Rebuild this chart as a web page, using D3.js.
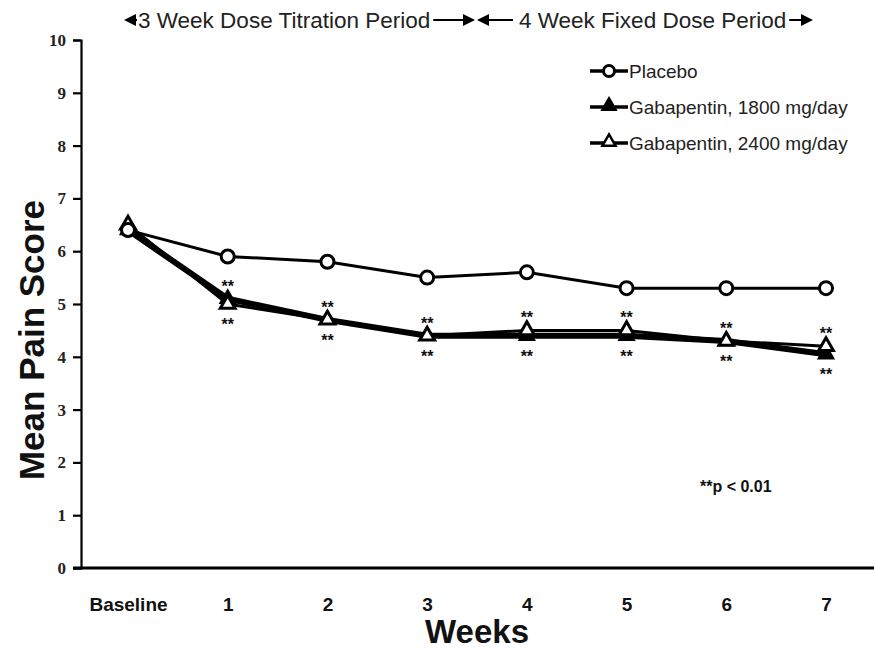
<!DOCTYPE html>
<html>
<head>
<meta charset="utf-8">
<script src="https://cdn.jsdelivr.net/npm/d3@7"></script>
<style>
  body { margin: 0; background: #fff; }
  svg text { fill: #111; }
</style>
</head>
<body>
<div id="chart"></div>
<script>
// values
const weeks = ['Baseline', '1', '2', '3', '4', '5', '6', '7'];
const placebo = [6.4, 5.9, 5.8, 5.5, 5.6, 5.3, 5.3, 5.3];
const gaba1800 = [6.4, 5.1, 4.7, 4.4, 4.4, 4.4, 4.3, 4.05];
const gaba2400 = [6.5, 5.0, 4.7, 4.4, 4.5, 4.5, 4.3, 4.2];
const significant = [false, true, true, true, true, true, true, true];
const yTicks = [0, 1, 2, 3, 4, 5, 6, 7, 8, 9, 10];
const legendLabels = ['Placebo', 'Gabapentin, 1800 mg/day', 'Gabapentin, 2400 mg/day'];

const width = 874, height = 652;
const sans = 'Liberation Sans, Arial, sans-serif';

const svg = d3.select('#chart').append('svg')
    .attr('width', width)
    .attr('height', height);

const x = d3.scalePoint().domain(weeks).range([128, 826]);
const y = d3.scaleLinear().domain([0, 10]).range([568, 40]);

// y axis
const yAxis = svg.append('g')
    .attr('transform', 'translate(81,0)')
    .call(d3.axisLeft(y).tickValues(yTicks).tickSize(8).tickPadding(7));
yAxis.select('.domain').attr('stroke', '#000').attr('stroke-width', 2.2);
yAxis.selectAll('.tick line').attr('stroke', '#000').attr('stroke-width', 2.2);
yAxis.selectAll('.tick text')
    .attr('font-family', 'Liberation Serif, Times New Roman, serif')
    .attr('font-weight', 'bold')
    .attr('font-size', 17)
    .style('fill', '#222');

// x axis (no tick marks)
const xAxis = svg.append('g')
    .attr('transform', `translate(0,${y(0)})`)
    .call(d3.axisBottom(x).tickSize(0).tickPadding(30));
xAxis.select('.domain').remove();
xAxis.append('line')
    .attr('x1', 73).attr('x2', width)
    .attr('stroke', '#000').attr('stroke-width', 3.2);
xAxis.selectAll('.tick text')
    .attr('font-family', sans)
    .attr('font-weight', 'bold')
    .attr('font-size', 19)
    .style('fill', '#111');

// axis titles
svg.append('text')
    .attr('transform', `translate(44,340) rotate(-90)`)
    .attr('text-anchor', 'middle')
    .attr('font-family', sans)
    .attr('font-weight', 'bold')
    .attr('font-size', 35)
    .text('Mean Pain Score');

svg.append('text')
    .attr('x', 477)
    .attr('y', 643)
    .attr('text-anchor', 'middle')
    .attr('font-family', sans)
    .attr('font-weight', 'bold')
    .attr('font-size', 33)
    .text('Weeks');

// lines
const line = d3.line()
    .x((d, i) => x(weeks[i]))
    .y((d) => y(d));

svg.append('path')
    .datum(placebo)
    .attr('d', line)
    .attr('fill', 'none')
    .attr('stroke', '#000')
    .attr('stroke-width', 3);

svg.append('path')
    .datum(gaba1800)
    .attr('d', line)
    .attr('fill', 'none')
    .attr('stroke', '#000')
    .attr('stroke-width', 6);

svg.append('path')
    .datum(gaba2400)
    .attr('d', line)
    .attr('fill', 'none')
    .attr('stroke', '#000')
    .attr('stroke-width', 3);

// markers
const triangle = d3.symbol().type(d3.symbolTriangle).size(95);

svg.selectAll('.filled')
    .data(gaba1800)
    .enter()
    .append('path')
    .attr('class', 'filled')
    .attr('d', triangle)
    .attr('transform', (d, i) => `translate(${x(weeks[i])},${y(d)})`)
    .attr('fill', '#000')
    .attr('stroke', '#000')
    .attr('stroke-width', 2);

svg.selectAll('.open')
    .data(gaba2400)
    .enter()
    .append('path')
    .attr('class', 'open')
    .attr('d', triangle)
    .attr('transform', (d, i) => `translate(${x(weeks[i])},${y(d)})`)
    .attr('fill', '#fff')
    .attr('stroke', '#000')
    .attr('stroke-width', 3);

svg.selectAll('.circ')
    .data(placebo)
    .enter()
    .append('circle')
    .attr('class', 'circ')
    .attr('cx', (d, i) => x(weeks[i]))
    .attr('cy', (d) => y(d))
    .attr('r', 6.5)
    .attr('fill', '#fff')
    .attr('stroke', '#000')
    .attr('stroke-width', 3);

// significance stars above and below the gabapentin points
const sigIdx = significant.map((s, i) => (s ? i : -1)).filter((i) => i >= 0);
svg.selectAll('.starUp')
    .data(sigIdx)
    .enter()
    .append('text')
    .attr('x', (i) => x(weeks[i]))
    .attr('y', (i) => y(Math.max(gaba1800[i], gaba2400[i])) - 7)
    .attr('text-anchor', 'middle')
    .attr('font-family', sans)
    .attr('font-weight', 'bold')
    .attr('font-size', 16)
    .text('**');
svg.selectAll('.starDown')
    .data(sigIdx)
    .enter()
    .append('text')
    .attr('x', (i) => x(weeks[i]))
    .attr('y', (i) => y(Math.min(gaba1800[i], gaba2400[i])) + 26)
    .attr('text-anchor', 'middle')
    .attr('font-family', sans)
    .attr('font-weight', 'bold')
    .attr('font-size', 16)
    .text('**');

// legend
const legend = svg.append('g').attr('transform', 'translate(590,0)');
legendLabels.forEach((label, i) => {
    const row = legend.append('g').attr('transform', `translate(0,${71 + i * 36})`);
    row.append('line')
        .attr('x1', 0).attr('x2', 38)
        .attr('stroke', '#000').attr('stroke-width', 3.5);
    if (i === 0) {
        row.append('circle')
            .attr('cx', 19).attr('r', 5.5)
            .attr('fill', '#fff').attr('stroke', '#000').attr('stroke-width', 3);
    } else {
        row.append('path')
            .attr('d', d3.symbol().type(d3.symbolTriangle).size(75))
            .attr('transform', 'translate(19,-1)')
            .attr('fill', i === 1 ? '#000' : '#fff')
            .attr('stroke', '#000').attr('stroke-width', 2.5);
    }
    row.append('text')
        .attr('x', 39)
        .attr('y', 7)
        .attr('font-family', sans)
        .attr('font-size', 19)
        .style('fill', '#222')
        .text(label);
});

// p-value note
svg.append('text')
    .attr('x', 700)
    .attr('y', 492)
    .attr('font-family', sans)
    .attr('font-weight', 'bold')
    .attr('font-size', 16)
    .text('**p < 0.01');

// period annotations with arrows on top
function arrowHead(g, tipX, tipY, dir) {
    g.append('path')
        .attr('d', `M${tipX},${tipY} l${-dir * 12},-6 l0,12 z`)
        .attr('fill', '#000');
}
const header = svg.append('g');
const topY = 20;
const t1 = header.append('text')
    .attr('x', 138).attr('y', topY + 8)
    .attr('font-family', sans).attr('font-size', 22.5)
    .style('fill', '#222')
    .text('3 Week Dose Titration Period');
const t2 = header.append('text')
    .attr('x', 519).attr('y', topY + 8)
    .attr('font-family', sans).attr('font-size', 22.5)
    .style('fill', '#222')
    .text('4 Week Fixed Dose Period');
const e1 = 138 + t1.node().getComputedTextLength();
const e2 = 519 + t2.node().getComputedTextLength();
arrowHead(header, 124, topY, -1);
header.append('line').attr('x1', 130).attr('x2', 137).attr('y1', topY).attr('y2', topY)
    .attr('stroke', '#000').attr('stroke-width', 2);
header.append('line').attr('x1', e1 + 3).attr('x2', 466).attr('y1', topY).attr('y2', topY)
    .attr('stroke', '#000').attr('stroke-width', 2);
arrowHead(header, 475, topY, 1);
arrowHead(header, 477, topY, -1);
header.append('line').attr('x1', 484).attr('x2', 513).attr('y1', topY).attr('y2', topY)
    .attr('stroke', '#000').attr('stroke-width', 2);
header.append('line').attr('x1', e2 + 3).attr('x2', 805).attr('y1', topY).attr('y2', topY)
    .attr('stroke', '#000').attr('stroke-width', 2);
arrowHead(header, 813, topY, 1);
</script>
</body>
</html>
